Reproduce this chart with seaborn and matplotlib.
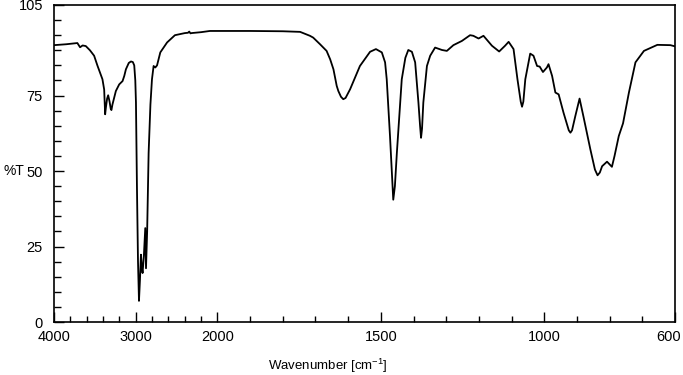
import numpy as np
import matplotlib
matplotlib.use('Agg')
import matplotlib.pyplot as plt
import matplotlib.transforms as mtransforms
import seaborn as sns
from matplotlib.ticker import FixedLocator

# 红外光谱数据
wavenumber = [4000, 3850, 3714, 3681, 3650, 3611, 3560, 3509, 3468, 3407, 3386, 3378, 3374,
              3365, 3350, 3337, 3320, 3305, 3297, 3285, 3243, 3202, 3161, 3140, 3120,
              3085, 3058, 3035, 3018, 3005, 2997, 2985, 2972, 2960, 2948, 2936, 2925,
              2916, 2900, 2883, 2874, 2860, 2842, 2820, 2801, 2781, 2770, 2760, 2739,
              2699, 2616, 2520, 2453, 2398, 2360, 2345, 2330, 2316, 2200, 2092, 1900,
              1800, 1747, 1717, 1707, 1686, 1666, 1655, 1645, 1635, 1630, 1622, 1615,
              1608, 1594, 1564, 1533, 1515, 1497, 1487, 1482, 1472, 1466, 1462, 1457,
              1451, 1436, 1425, 1416, 1405, 1395, 1385, 1380, 1377, 1374, 1370, 1359,
              1349, 1334, 1313, 1298, 1278, 1252, 1227, 1217, 1201, 1186, 1160, 1138,
              1120, 1109, 1094, 1082, 1072, 1068, 1064, 1058, 1043, 1033, 1022, 1014,
              1004, 992, 987, 976, 966, 956, 941, 925, 920, 915, 905, 892, 880, 859,
              845, 837, 830, 823, 808, 793, 785, 772, 759, 741, 721, 695, 654, 614, 600]
transmittance = [91.7, 92.0, 92.4, 91.0, 91.6, 91.4, 90.0, 88.2, 84.9, 80.4, 77.0, 72.0, 68.8,
                 71.0, 74.0, 75.1, 73.0, 70.5, 70.2, 72.0, 76.5, 78.7, 79.8, 81.5, 83.7,
                 85.8, 86.3, 86.1, 85.0, 80.0, 72.7, 45.0, 20.0, 7.0, 14.0, 22.3, 18.0,
                 16.2, 22.0, 31.1, 17.8, 30.0, 56.0, 72.0, 80.4, 84.8, 84.5, 84.3, 85.0,
                 89.3, 92.6, 95.0, 95.4, 95.7, 95.8, 96.2, 95.6, 95.7, 96.0, 96.4, 96.4,
                 96.3, 96.1, 94.8, 94.2, 92.0, 89.8, 87.0, 83.7, 78.2, 76.5, 74.6, 73.8,
                 74.2, 77.1, 84.8, 89.5, 90.4, 89.3, 86.0, 80.4, 61.6, 49.0, 40.5, 45.0,
                 56.0, 80.4, 87.5, 90.1, 89.5, 86.0, 72.7, 65.0, 61.0, 64.0, 72.7, 84.8,
                 88.2, 90.9, 90.1, 89.8, 91.7, 93.1, 95.0, 94.8, 93.9, 94.8, 91.5, 89.6,
                 91.5, 92.8, 90.4, 80.4, 73.0, 71.3, 73.0, 80.4, 88.9, 88.2, 84.8, 84.6,
                 82.8, 84.3, 85.4, 81.5, 76.0, 75.4, 69.3, 63.5, 62.7, 63.5, 68.2, 74.0,
                 68.0, 57.2, 50.5, 48.6, 49.5, 51.6, 53.1, 51.4, 55.0, 61.6, 65.8, 76.0,
                 86.0, 89.8, 91.8, 91.7, 91.3]

x_major = [4000, 3000, 2000, 1500, 1000, 600]
x_minor = [3800, 3600, 3400, 3200, 2800, 2600, 2400, 2200,
           1900, 1800, 1700, 1600, 1400, 1300, 1200, 1100, 900, 800, 700]
y_major = [0, 25, 50, 75, 105]
y_minor = list(range(5, 105, 5))


# 4000-2000 区间压缩为 1/4
def forward(w):
    w = np.asarray(w, dtype=float)
    return np.where(w <= 2000, w, 2000 + (w - 2000) / 4)


def inverse(u):
    u = np.asarray(u, dtype=float)
    return np.where(u <= 2000, u, 2000 + (u - 2000) * 4)


sns.set_style("ticks")
plt.rcParams['font.family'] = ['Liberation Sans', 'DejaVu Sans']
plt.rcParams['mathtext.fontset'] = 'custom'
plt.rcParams['mathtext.rm'] = 'Liberation Sans'
plt.rcParams['mathtext.it'] = 'Liberation Sans'

fig = plt.figure(figsize=(6.83, 3.75), dpi=100)
ax = fig.add_axes([54 / 683, 53 / 375, 621 / 683, 317 / 375])

sns.lineplot(x=wavenumber, y=transmittance, sort=False, color='black',
             linewidth=1.3, ax=ax)

ax.set_xscale('function', functions=(forward, inverse))
ax.set_xlim(4000, 600)
ax.set_ylim(0, 105)

ax.xaxis.set_major_locator(FixedLocator(x_major))
ax.xaxis.set_minor_locator(FixedLocator(x_minor))
ax.set_xticklabels([str(v) for v in x_major])
ax.yaxis.set_major_locator(FixedLocator(y_major))
ax.yaxis.set_minor_locator(FixedLocator(y_minor))
ax.set_yticklabels([str(v) for v in y_major])

ax.tick_params(axis='both', which='major', direction='in', length=7, width=1,
               labelsize=10.5, color='black', labelcolor='black')
ax.tick_params(axis='x', which='major', pad=6)
ax.tick_params(axis='y', which='major', pad=8)
ax.tick_params(axis='x', which='minor', direction='in', length=4.5, width=1, color='black')
ax.tick_params(axis='y', which='minor', direction='in', length=5, width=1, color='black')

# 600 标签稍微左移，避免被裁掉
lbl600 = ax.get_xticklabels()[-1]
lbl600.set_transform(lbl600.get_transform() +
                     mtransforms.ScaledTranslation(-6 / 100, 0, fig.dpi_scale_trans))

for s in ax.spines.values():
    s.set_color('black')
    s.set_linewidth(1.2)

ax.set_xlabel(r'Wavenumber [cm$^{-1}$]', fontsize=9.5, color='black')
ax.xaxis.set_label_coords((328 - 54) / 621, (322 - 357) / 317)
ax.set_ylabel('%T', fontsize=10, rotation=0, color='black', ha='center', va='center')
ax.yaxis.set_label_coords((14 - 54) / 621, (322 - 171) / 317)

fig.savefig('out.png', dpi=100)
